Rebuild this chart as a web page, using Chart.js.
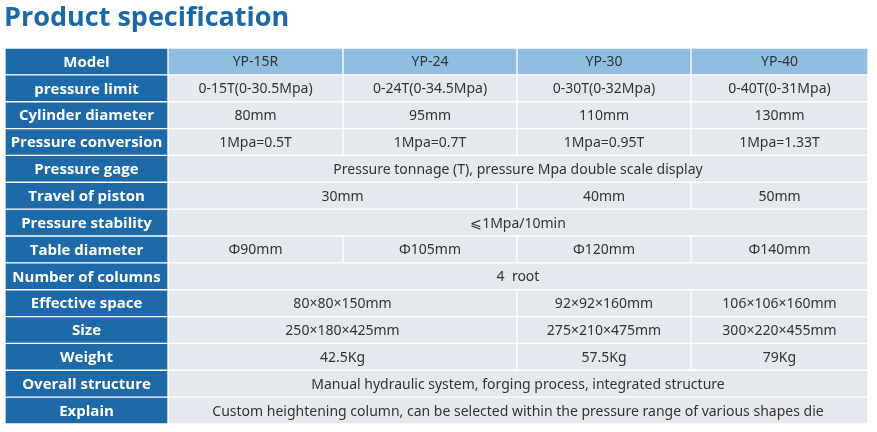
<!DOCTYPE html>
<html>
<head>
<meta charset="utf-8">
<script src="https://cdn.jsdelivr.net/npm/chart.js@4"></script>
<style>
  body { margin: 0; background: #fff; }
  #wrap { width: 877px; height: 432px; }
</style>
</head>
<body>
<div id="wrap"><canvas id="myChart"></canvas></div>
<script>
// table content, one array per row: [text, columns spanned]
const rowLabels = ["Model", "pressure limit", "Cylinder diameter", "Pressure conversion", "Pressure gage",
  "Travel of piston", "Pressure stability", "Table diameter", "Number of columns", "Effective space",
  "Size", "Weight", "Overall structure", "Explain"];
const model = [["YP-15R", 1], ["YP-24", 1], ["YP-30", 1], ["YP-40", 1]];
const pressureLimit = [["0-15T(0-30.5Mpa)", 1], ["0-24T(0-34.5Mpa)", 1], ["0-30T(0-32Mpa)", 1], ["0-40T(0-31Mpa)", 1]];
const cylinderDiameter = [["80mm", 1], ["95mm", 1], ["110mm", 1], ["130mm", 1]];
const pressureConversion = [["1Mpa=0.5T", 1], ["1Mpa=0.7T", 1], ["1Mpa=0.95T", 1], ["1Mpa=1.33T", 1]];
const pressureGage = [["Pressure tonnage (T), pressure Mpa double scale display", 4]];
const travelOfPiston = [["30mm", 2], ["40mm", 1], ["50mm", 1]];
const pressureStability = [["⩽1Mpa/10min", 4]];
const tableDiameter = [["Φ90mm", 1], ["Φ105mm", 1], ["Φ120mm", 1], ["Φ140mm", 1]];
const numberOfColumns = [["4  root", 4]];
const effectiveSpace = [["80×80×150mm", 2], ["92×92×160mm", 1], ["106×106×160mm", 1]];
const size = [["250×180×425mm", 2], ["275×210×475mm", 1], ["300×220×455mm", 1]];
const weight = [["42.5Kg", 2], ["57.5Kg", 1], ["79Kg", 1]];
const overallStructure = [["Manual hydraulic system, forging process, integrated structure", 4]];
const explain = [["Custom heightening column, can be selected within the pressure range of various shapes die", 4]];
const rows = [model, pressureLimit, cylinderDiameter, pressureConversion, pressureGage, travelOfPiston,
  pressureStability, tableDiameter, numberOfColumns, effectiveSpace, size, weight, overallStructure, explain];
// column edges along the x scale
const colEdges = [0, 163, 338, 512, 686, 863];

const datasets = [];
for (let k = 0; k < 5; k++) {
  datasets.push({ data: [], texts: [], borderColor: "#ffffff", borderWidth: 1, borderSkipped: false,
    backgroundColor: [] });
}
rows.forEach((cells, r) => {
  datasets[0].data.push([colEdges[0], colEdges[1]]);
  datasets[0].texts.push(rowLabels[r]);
  datasets[0].backgroundColor.push("#1e69a8");
  let c = 1;
  for (let k = 1; k < 5; k++) {
    const cell = cells[k - 1];
    if (cell) {
      datasets[k].data.push([colEdges[c], colEdges[c + cell[1]]]);
      datasets[k].texts.push(cell[0]);
      c += cell[1];
    } else {
      datasets[k].data.push(null);
      datasets[k].texts.push("");
    }
    datasets[k].backgroundColor.push(r === 0 ? "#90bee1" : "#e5e8ee");
  }
});

const cellText = {
  id: "cellText",
  afterDatasetsDraw(chart) {
    const ctx = chart.ctx;
    ctx.save();
    ctx.textAlign = "center";
    ctx.textBaseline = "middle";
    chart.data.datasets.forEach((ds, k) => {
      chart.getDatasetMeta(k).data.forEach((el, i) => {
        if (!ds.data[i]) return;
        if (k === 0) {
          ctx.fillStyle = "#ffffff";
          ctx.font = "bold 15px 'Open Sans'";
        } else {
          ctx.fillStyle = "#333333";
          ctx.font = "14px 'Noto Sans'";
        }
        ctx.fillText(ds.texts[i], (el.x + el.base) / 2, el.y + 1);
      });
    });
    ctx.fillStyle = "#1a68a6";
    ctx.font = "bold 27px 'Open Sans'";
    ctx.textAlign = "left";
    ctx.fillText("Product specification", 4, 18);
    ctx.restore();
  }
};

new Chart(document.getElementById("myChart"), {
  type: "bar",
  data: { labels: rowLabels, datasets: datasets },
  options: {
    indexAxis: "y",
    responsive: true,
    maintainAspectRatio: false,
    animation: false,
    layout: { padding: { left: 5, right: 9, top: 48, bottom: 8 } },
    datasets: { bar: { barPercentage: 1, categoryPercentage: 1, grouped: false } },
    scales: {
      x: { display: false, min: 0, max: 863 },
      y: { display: false }
    },
    plugins: { legend: { display: false }, tooltip: { enabled: false } }
  },
  plugins: [cellText]
});
</script>
</body>
</html>
